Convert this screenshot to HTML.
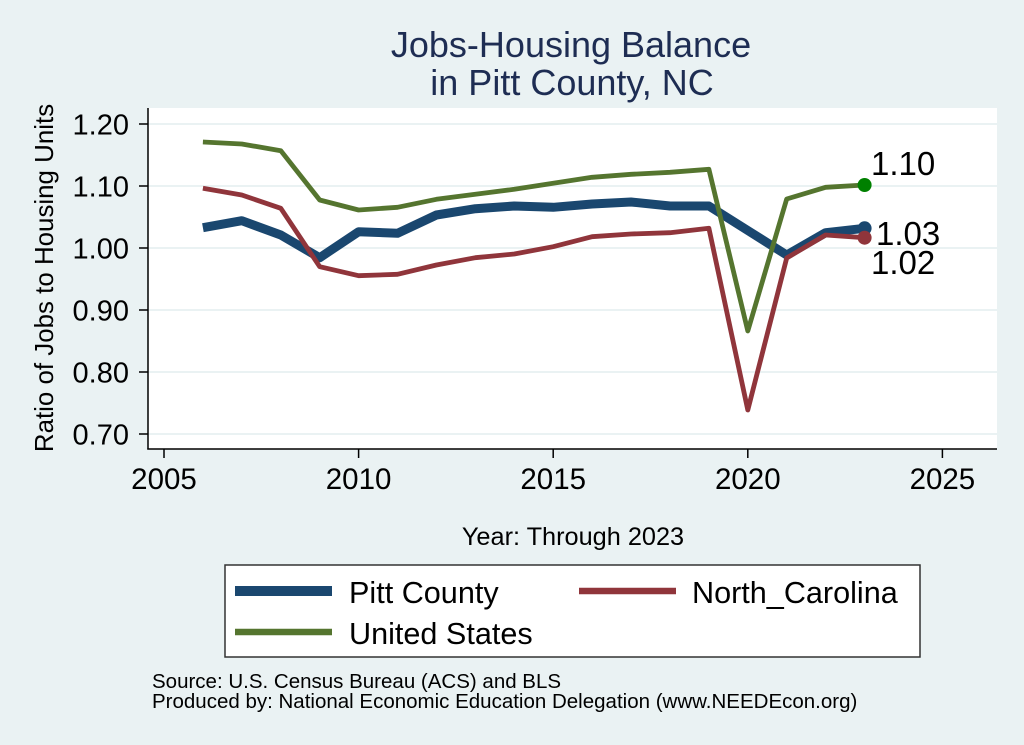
<!DOCTYPE html>
<html>
<head>
<meta charset="utf-8">
<style>
  html, body { margin:0; padding:0; background:#eaf2f3; }
  svg { display:block; }
  text { font-family: "Liberation Sans", Arial, sans-serif; }
</style>
</head>
<body>
<svg width="1024" height="745" viewBox="0 0 1024 745" xmlns="http://www.w3.org/2000/svg">
  <rect x="0" y="0" width="1024" height="745" fill="#eaf2f3"/>

  <!-- Title -->
  <text x="571" y="57" font-size="36" fill="#1e2d53" text-anchor="middle">Jobs-Housing Balance</text>
  <text x="572" y="95" font-size="36" fill="#1e2d53" text-anchor="middle">in Pitt County, NC</text>

  <!-- Plot region -->
  <rect x="148" y="108" width="849" height="341" fill="#ffffff"/>

  <!-- Grid lines -->
  <g stroke="#eaf2f3" stroke-width="2">
    <line x1="148" y1="124" x2="997" y2="124"/>
    <line x1="148" y1="186" x2="997" y2="186"/>
    <line x1="148" y1="248" x2="997" y2="248"/>
    <line x1="148" y1="310" x2="997" y2="310"/>
    <line x1="148" y1="372" x2="997" y2="372"/>
    <line x1="148" y1="434" x2="997" y2="434"/>
  </g>

  <!-- Axes -->
  <g stroke="#000" stroke-width="1.5" fill="none">
    <line x1="148" y1="108" x2="148" y2="449.5"/>
    <line x1="147.3" y1="449" x2="997" y2="449"/>
    <line x1="139" y1="124" x2="148" y2="124"/>
    <line x1="139" y1="186" x2="148" y2="186"/>
    <line x1="139" y1="248" x2="148" y2="248"/>
    <line x1="139" y1="310" x2="148" y2="310"/>
    <line x1="139" y1="372" x2="148" y2="372"/>
    <line x1="139" y1="434" x2="148" y2="434"/>
    <line x1="164" y1="449" x2="164" y2="458"/>
    <line x1="358.6" y1="449" x2="358.6" y2="458"/>
    <line x1="553.2" y1="449" x2="553.2" y2="458"/>
    <line x1="747.8" y1="449" x2="747.8" y2="458"/>
    <line x1="942.4" y1="449" x2="942.4" y2="458"/>
  </g>

  <!-- Y tick labels -->
  <g font-size="29" fill="#000" text-anchor="end">
    <text x="129" y="134.5">1.20</text>
    <text x="129" y="196.5">1.10</text>
    <text x="129" y="258.5">1.00</text>
    <text x="129" y="320.5">0.90</text>
    <text x="129" y="382.5">0.80</text>
    <text x="129" y="444.5">0.70</text>
  </g>

  <!-- X tick labels -->
  <g font-size="29.5" fill="#000" text-anchor="middle">
    <text x="164" y="489">2005</text>
    <text x="358.6" y="489">2010</text>
    <text x="553.2" y="489">2015</text>
    <text x="747.8" y="489">2020</text>
    <text x="942.4" y="489">2025</text>
  </g>

  <!-- Axis titles -->
  <text x="573" y="545" font-size="25.3" fill="#000" text-anchor="middle">Year: Through 2023</text>
  <text transform="translate(53,278) rotate(-90)" font-size="25.9" fill="#000" text-anchor="middle">Ratio of Jobs to Housing Units</text>

  <!-- Series -->
  <polyline fill="none" stroke="#1a476f" stroke-width="9" stroke-linejoin="round"
    points="202.9,227.7 241.8,220.7 280.8,235 319.7,257.7 358.6,231.7 397.5,233.3 436.4,215 475.4,208.7 514.3,206 553.2,207.3 592.1,204 631,202 670,206 708.9,206 747.8,230.5 786.7,255 825.6,232.7 864.6,228.3"/>
  <polyline fill="none" stroke="#90353b" stroke-width="4.8" stroke-linejoin="round"
    points="202.9,188.3 241.8,195 280.8,208.3 319.7,266.7 358.6,275.7 397.5,274.3 436.4,265 475.4,257.7 514.3,254 553.2,246.7 592.1,236.7 631,234 670,232.7 708.9,228.3 747.8,410 786.7,258 825.6,235 864.6,237.7"/>
  <polyline fill="none" stroke="#55752f" stroke-width="4.8" stroke-linejoin="round"
    points="202.9,142 241.8,144 280.8,150.7 319.7,200 358.6,210 397.5,207.3 436.4,199.3 475.4,194.3 514.3,189.3 553.2,183.3 592.1,177.3 631,174.3 670,172.3 708.9,169.3 747.8,331 786.7,199 825.6,187.3 864.6,185"/>

  <!-- End markers -->
  <circle cx="864.6" cy="228.3" r="7" fill="#1a476f"/>
  <circle cx="864.6" cy="237.7" r="7" fill="#90353b"/>
  <circle cx="864.6" cy="185" r="7" fill="#008000"/>

  <!-- Marker labels -->
  <g font-size="33" fill="#000">
    <text x="871" y="175">1.10</text>
    <text x="876" y="245">1.03</text>
    <text x="871" y="274">1.02</text>
  </g>

  <!-- Legend -->
  <rect x="225" y="565" width="695" height="92" fill="#ffffff" stroke="#333" stroke-width="1.5"/>
  <line x1="235" y1="591" x2="332" y2="591" stroke="#1a476f" stroke-width="10"/>
  <line x1="235" y1="632" x2="332" y2="632" stroke="#55752f" stroke-width="6.5"/>
  <line x1="579" y1="591" x2="676" y2="591" stroke="#90353b" stroke-width="6.5"/>
  <g font-size="30.6" fill="#000">
    <text x="349" y="603">Pitt County</text>
    <text x="349" y="644">United States</text>
    <text x="692" y="603">North_Carolina</text>
  </g>

  <!-- Notes -->
  <g font-size="20.5" fill="#000">
    <text x="152" y="688">Source: U.S. Census Bureau (ACS) and BLS</text>
    <text x="152" y="708">Produced by: National Economic Education Delegation (www.NEEDEcon.org)</text>
  </g>
</svg>
</body>
</html>
